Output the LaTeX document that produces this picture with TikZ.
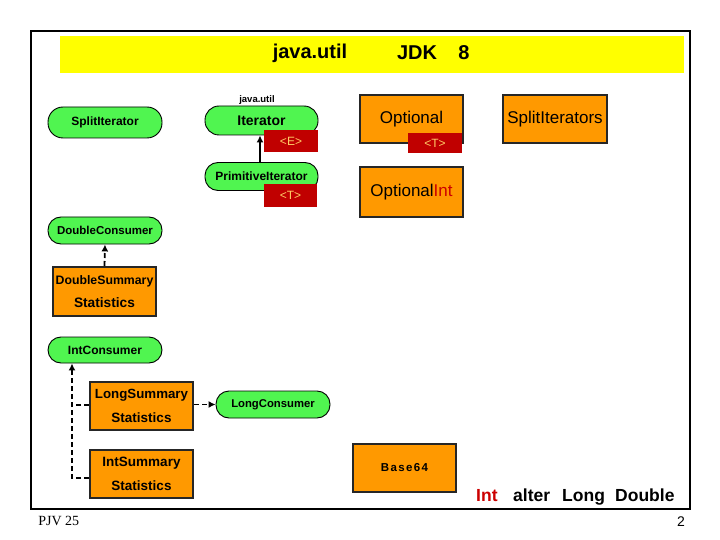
\documentclass[tikz,border=0pt]{standalone}
\usepackage{fontspec}
\setmainfont{Liberation Sans}
\newfontfamily\serifface{Liberation Serif}
\usetikzlibrary{arrows.meta}
\definecolor{pillgreen}{RGB}{80,245,80}
\definecolor{boxorange}{RGB}{255,153,0}
\definecolor{tagred}{RGB}{192,0,0}
\definecolor{tagtext}{RGB}{255,204,102}
\definecolor{bandyellow}{RGB}{255,255,0}
\definecolor{intred}{RGB}{204,0,0}
\newcommand{\fs}[1]{\fontsize{#1}{#1}\selectfont}
\tikzset{
  pill/.style={draw=black, line width=0.9pt, fill=pillgreen, rounded corners=13pt,
    minimum width=114pt, minimum height=28pt, inner sep=0pt},
  obox/.style={draw=black!85, line width=2pt, fill=boxorange, minimum width=103pt,
    minimum height=48pt, inner sep=0pt},
  tag/.style={fill=tagred, text=tagtext, minimum width=54pt, minimum height=22pt,
    inner sep=0pt, font=\fs{12}},
  solidarr/.style={line width=1.8pt, -{Latex[length=7pt,width=7pt]}},
  dasharr/.style={line width=1.8pt, dash pattern=on 5pt off 3pt, -{Latex[length=7pt,width=7pt]}},
  dashline/.style={line width=1.8pt, dash pattern=on 5pt off 3pt},
}
\begin{document}
\begin{tikzpicture}[x=1pt,y=-1pt]
\useasboundingbox (0,0) rectangle (720,540);
\fill[white] (0,0) rectangle (720,540);
% frame and band
\draw[line width=2pt] (31,31) rectangle (690,509);
\fill[bandyellow] (60,36) rectangle (684,73);
\node (t1) at (310,53) {\fs{20}\bfseries java.util};
\node (t2) at (417,53) {\fs{20}\bfseries JDK};
\node (t3) at (464,53) {\fs{20}\bfseries 8};
% top-left pills
\node[pill, minimum height=31pt, rounded corners=15pt, font=\fs{12}\bfseries] (split) at (105,122.5) {SplitIterator};
\node (jul) at (257,100) {\fs{9.5}\bfseries java.util};
\node[pill, minimum width=113pt, minimum height=29pt, rounded corners=14pt, font=\fs{14}\bfseries] (iter) at (261.5,120.5) {Iterator};
\node[tag] (tagE) at (291,141.5) {<E>};
\node[pill, minimum width=113pt, minimum height=28pt, font=\fs{12}\bfseries] (prim) at (261.5,176.5) {PrimitiveIterator};
\node[tag, minimum width=53pt, minimum height=23pt] (tagT) at (290.5,195.5) {<T>};
\draw[solidarr] ([xshift=-1.5pt]prim.north) -- ([xshift=-1.5pt]iter.south);
% orange top boxes
\node[obox, font=\fs{17}] (opt) at (411.5,119) {Optional};
\node[tag, minimum height=20pt] (tagT2) at (435,143) {<T>};
\node[obox, minimum width=104pt, font=\fs{17}] (spl) at (555,119) {SplitIterators};
\node[obox, minimum height=50pt, font=\fs{17}] (optint) at (411.5,192) {Optional\textcolor{intred}{Int}};
% Double
\node[pill, minimum height=27pt, font=\fs{11.5}\bfseries] (dcons) at (105,230.5) {DoubleConsumer};
\node[obox, minimum height=49pt, align=center] (dsum) at (104.5,291.5) {\fs{12.3}\bfseries DoubleSummary\\[10pt]\fs{13.7}\bfseries Statistics};
\draw[dasharr] (dsum.north) -- (dcons.south);
% Int / Long
\node[pill, minimum height=26pt, font=\fs{12}\bfseries] (icons) at (105,350) {IntConsumer};
\node[obox, align=center] (lsum) at (141.5,406) {\fs{13.3}\bfseries LongSummary\\[10pt]\fs{13.5}\bfseries Statistics};
\node[pill, minimum height=27pt, font=\fs{11.3}\bfseries] (lcons) at (273,404.5) {LongConsumer};
\node[obox, align=center] (isum) at (141.5,474) {\fs{13.5}\bfseries IntSummary\\[10pt]\fs{13.5}\bfseries Statistics};
\coordinate (c1) at (72,478);
\coordinate (c2) at (72,405);
\draw[dasharr] (isum.west |- c1) -- (c1) -- (c1 |- icons.south);
\draw[dashline] (lsum.west |- c2) -- (c2);
\draw[dasharr] (lsum.east |- lcons.west) -- (lcons.west);
% Base64
\node[obox, font=\fs{11.5}\bfseries\addfontfeature{LetterSpace=12}] (b64) at (404.5,468) {Base64};
% bottom text
\node[anchor=base west, inner sep=0pt, text=intred] (w1) at (476,501) {\fs{17.5}\bfseries Int};
\node[anchor=base west, inner sep=0pt] (w2) at (513,501) {\fs{17.5}\bfseries alter};
\node[anchor=base west, inner sep=0pt] (w3) at (562,501) {\fs{17.5}\bfseries Long};
\node[anchor=base west, inner sep=0pt] (w4) at (615,501) {\fs{17.5}\bfseries Double};
% footer
\node (pjv) at (57,521) {\serifface\fs{14} PJV 25};
\node (pg) at (679,522) {\fs{14} 2};
\end{tikzpicture}
\end{document}
